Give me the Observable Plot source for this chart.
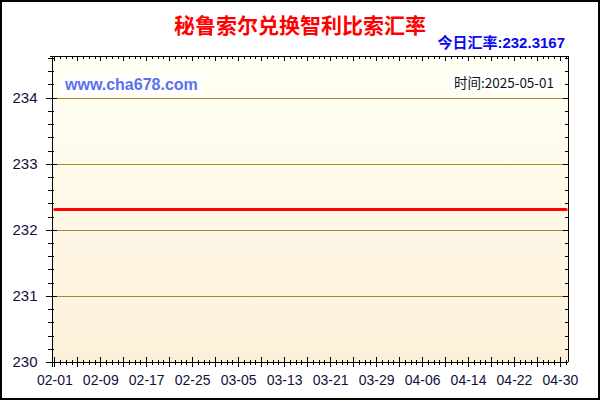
<!DOCTYPE html>
<html>
<head>
<meta charset="utf-8">
<script src="https://cdn.jsdelivr.net/npm/d3@7"></script>
<script src="https://cdn.jsdelivr.net/npm/@observablehq/plot@0.6"></script>
<style>
  body { margin: 0; background: #fff; }
  #wrap { position: relative; width: 600px; height: 400px; overflow: hidden; background: #fff; }
  #wrap svg { position: absolute; left: 0; top: 0; }
  #border { position: absolute; left: 0; top: 0; width: 600px; height: 400px; box-sizing: border-box; border: 2px solid #000; pointer-events: none; }
  #title { position: absolute; left: 0; width: 600px; top: 12px; text-align: center; font: bold 21px/24px "Noto Sans CJK SC", sans-serif; color: #ff0000; }
  #sub { position: absolute; right: 35px; top: 34px; font: bold 15px/18px "Liberation Sans", "Noto Sans CJK SC", sans-serif; color: #0a0af0; }
  #site { position: absolute; left: 61px; top: 75px; width: 141px; height: 19px; background: #fff; font: bold 16px/19px "Liberation Sans", Arial, sans-serif; color: #5b70ee; padding-left: 4px; box-sizing: border-box; }
  #time { position: absolute; left: 450px; top: 73px; width: 108px; height: 18px; background: #fff; font: 13.5px/18px "Noto Sans CJK SC", sans-serif; color: #111; text-align: center; }
</style>
</head>
<body>
<div id="wrap"></div>
<script>
// ---- data ----
const title = "秘鲁索尔兑换智利比索汇率";
const todayLabel = "今日汇率:232.3167";
const siteLabel = "www.cha678.com";
const timeLabel = "时间:2025-05-01";

const dates = ["2025-02-01", "2025-05-01"];
const rates = [232.3167, 232.3167];

const yTicks = [230, 231, 232, 233, 234];
const xLabelDates = ["2025-02-01", "2025-02-09", "2025-02-17", "2025-02-25", "2025-03-05", "2025-03-13",
                     "2025-03-21", "2025-03-29", "2025-04-06", "2025-04-14", "2025-04-22", "2025-04-30"];
const xStart = "2025-02-01";
const xEnd = "2025-05-01";
const yMin = 230, yMax = 234.63;

const data = dates.map((d, i) => ({date: new Date(d), rate: rates[i]}));
const start = new Date(xStart), end = new Date(xEnd);
const days = d3.utcDay.range(start, d3.utcDay.offset(end, 1));
const majorDays = days.filter((d, i) => i % 4 === 0);
const yMinor = d3.range(Math.round(yMin * 5), Math.floor(yMax * 5) + 1).map(v => v / 5);

function background(index, scales, values, dims) {
  const g = d3.create("svg:g");
  const defs = g.append("defs");
  const lg = defs.append("linearGradient").attr("id", "bg").attr("x1", 0).attr("y1", 0).attr("x2", 0).attr("y2", 1);
  lg.append("stop").attr("offset", "0%").attr("stop-color", "#fffff4");
  lg.append("stop").attr("offset", "100%").attr("stop-color", "#fdf0d9");
  g.append("rect")
    .attr("x", dims.marginLeft).attr("y", dims.marginTop)
    .attr("width", dims.width - dims.marginLeft - dims.marginRight)
    .attr("height", dims.height - dims.marginTop - dims.marginBottom)
    .attr("fill", "url(#bg)");
  return g.node();
}

function axesTicks(index, scales, values, dims) {
  const x = scales.x, y = scales.y;
  const L = dims.marginLeft, T = dims.marginTop;
  const R = dims.width - dims.marginRight, B = dims.height - dims.marginBottom;
  const g = d3.create("svg:g").attr("stroke", "#000").attr("stroke-width", 1).attr("shape-rendering", "crispEdges").attr("fill", "none");
  const line = (x1, y1, x2, y2) => g.append("line").attr("x1", x1).attr("y1", y1).attr("x2", x2).attr("y2", y2);
  line(L - 6, B, R, B);
  line(L - 2, T, R, T);
  line(L, T, L, B + 5);
  line(R, T, R, B);
  const majorSet = new Set(majorDays.map(d => +d));
  for (const d of days) {
    const px = Math.round(x(d)) + 0.5;
    const major = majorSet.has(+d);
    if (major) { line(px, B - 5, px, B + 5); line(px, T, px, T + 5); }
    else { line(px, B - 2, px, B + 3); line(px, T, px, T + 3); }
  }
  for (const v of yMinor) {
    const py = Math.round(y(v)) + 0.5;
    const major = Math.abs(v - Math.round(v)) < 1e-6;
    if (major) { line(L - 6, py, L + 5, py); line(R - 5, py, R, py); }
    else { line(L - 4, py, L + 2, py); line(R - 3, py, R, py); }
  }
  return g.node();
}

const chart = Plot.plot({
  width: 600,
  height: 400,
  marginLeft: 52,
  marginRight: 32,
  marginTop: 56,
  marginBottom: 38,
  style: {background: "transparent", overflow: "visible"},
  x: {type: "utc", domain: [start, end], inset: 2.3},
  y: {domain: [yMin, yMax]},
  marks: [
    background,
    Plot.ruleY(yTicks.slice(1), {stroke: "#a8862a", strokeWidth: 1, shapeRendering: "crispEdges"}),
    Plot.lineY(data, {x: "date", y: "rate", stroke: "#ff0000", strokeWidth: 3}),
    axesTicks,
    Plot.axisX(xLabelDates.map(d => new Date(d)), {tickSize: 0, tickPadding: 13, tickFormat: d3.utcFormat("%m-%d"),
      fontSize: 14, fontFamily: "Liberation Sans, Arial, sans-serif", fill: "#10103a", label: null}),
    Plot.axisY(yTicks, {tickSize: 0, tickPadding: 15, tickFormat: d3.format("d"), fontSize: 15,
      fontFamily: "Liberation Sans, Arial, sans-serif", fill: "#10103a", label: null})
  ]
});

const wrap = document.getElementById("wrap");
wrap.appendChild(chart);
const add = (id, text) => { const el = document.createElement("div"); el.id = id; el.textContent = text; wrap.appendChild(el); };
add("title", title);
add("sub", todayLabel);
add("site", siteLabel);
add("time", timeLabel);
const b = document.createElement("div"); b.id = "border"; wrap.appendChild(b);
</script>
</body>
</html>
